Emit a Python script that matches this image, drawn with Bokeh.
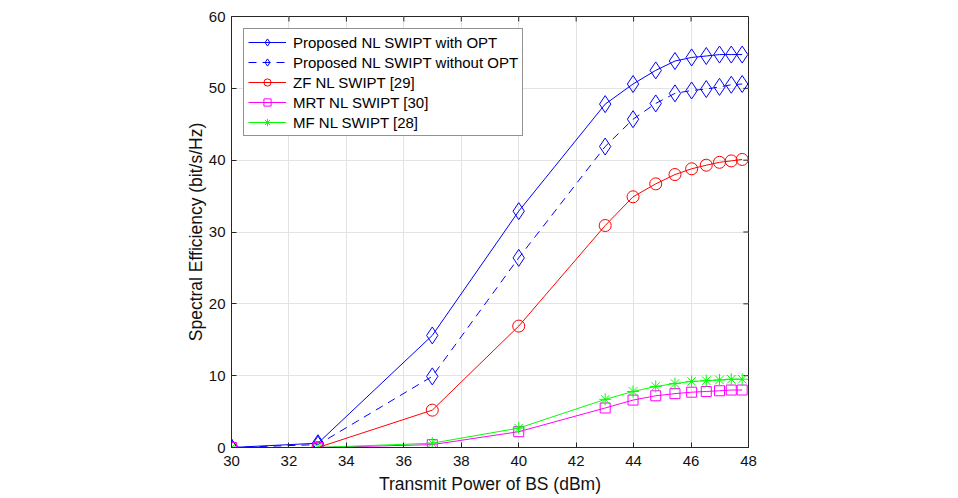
from bokeh.plotting import figure
from bokeh.models import Range1d, FixedTicker, Legend, LegendItem
from bokeh.embed import file_html
from bokeh.resources import INLINE

x_dbm = [30, 33.01, 36.99, 40, 43.01, 43.98, 44.77, 45.44, 46.02, 46.53, 46.99, 47.40, 47.78]
se_opt = [0, 0.6, 15.6, 32.9, 47.8, 50.6, 52.5, 53.8, 54.3, 54.5, 54.7, 54.7, 54.7]
se_noopt = [0, 0.4, 9.9, 26.4, 41.9, 45.7, 47.9, 49.3, 49.7, 49.9, 50.2, 50.5, 50.6]
se_zf = [0, 0, 5.2, 16.9, 30.9, 34.9, 36.7, 38.0, 38.8, 39.3, 39.7, 39.9, 40.1]
se_mrt = [0, 0, 0.4, 2.2, 5.5, 6.6, 7.2, 7.5, 7.7, 7.8, 7.9, 8.0, 8.0]
se_mf = [0, 0, 0.6, 2.7, 6.7, 7.8, 8.5, 8.9, 9.2, 9.3, 9.4, 9.5, 9.5]

names = ["Proposed NL SWIPT with OPT", "Proposed NL SWIPT without OPT",
         "ZF NL SWIPT [29]", "MRT NL SWIPT [30]", "MF NL SWIPT [28]"]
x_ticks = [30, 32, 34, 36, 38, 40, 42, 44, 46, 48]
y_ticks = [0, 10, 20, 30, 40, 50, 60]

FONT = "Liberation Sans"
AX = "#262626"

p = figure(width=958, height=498, output_backend="svg", toolbar_location=None,
           x_range=Range1d(30, 48), y_range=Range1d(0, 60),
           min_border_left=231, min_border_right=210, min_border_top=16, min_border_bottom=51)
p.outline_line_color = AX
p.outline_line_width = 1

for ax in (p.xaxis[0], p.yaxis[0]):
    ax.major_tick_in = 5
    ax.major_tick_out = 0
    ax.minor_tick_in = 0
    ax.minor_tick_out = 0
    ax.axis_line_color = AX
    ax.major_tick_line_color = AX
    ax.major_label_text_font = FONT
    ax.major_label_text_font_size = "15px"
    ax.major_label_text_color = "#111111"
    ax.axis_label_text_font = FONT
    ax.axis_label_text_font_size = "17.5px"
    ax.axis_label_text_font_style = "normal"
    ax.axis_label_text_color = "#111111"

p.xaxis[0].ticker = FixedTicker(ticks=x_ticks)
p.yaxis[0].ticker = FixedTicker(ticks=y_ticks)
p.xaxis[0].axis_label = "Transmit Power of BS (dBm)"
p.yaxis[0].axis_label = "Spectral Efficiency (bit/s/Hz)"
p.xaxis[0].major_label_standoff = 8
p.yaxis[0].major_label_standoff = 6
p.xaxis[0].axis_label_standoff = 5
p.yaxis[0].axis_label_standoff = 0

# tick marks on the top and right edges of the box (drawn from the tick arrays)
tick_len_y = 0.7
tick_len_x = 0.18
p.segment(x0=x_ticks, y0=[60] * len(x_ticks), x1=x_ticks, y1=[60 - tick_len_y] * len(x_ticks),
          line_color=AX, line_width=1)
p.segment(x0=[48] * len(y_ticks), y0=y_ticks, x1=[48 - tick_len_x] * len(y_ticks), y1=y_ticks,
          line_color=AX, line_width=1)

p.xgrid.ticker = FixedTicker(ticks=x_ticks)
p.ygrid.ticker = FixedTicker(ticks=y_ticks)
p.grid.grid_line_color = "#e3e3e3"
p.grid.grid_line_width = 1

blue = "#0000ff"
red = "#ff0000"
mag = "#ff00ff"
green = "#00ff00"

items = []
l1 = p.line(x_dbm, se_opt, line_color=blue, line_width=1)
m1 = p.scatter(x_dbm, se_opt, marker="diamond", size=17, fill_color=None, line_color=blue, line_width=1)
items.append(LegendItem(label=names[0], renderers=[l1, m1]))

l2 = p.line(x_dbm, se_noopt, line_color=blue, line_width=1, line_dash="8 6")
m2 = p.scatter(x_dbm, se_noopt, marker="diamond", size=17, fill_color=None, line_color=blue, line_width=1)
items.append(LegendItem(label=names[1], renderers=[l2, m2]))

l3 = p.line(x_dbm, se_zf, line_color=red, line_width=1)
m3 = p.scatter(x_dbm, se_zf, marker="circle", size=12, fill_color=None, line_color=red, line_width=1)
items.append(LegendItem(label=names[2], renderers=[l3, m3]))

l4 = p.line(x_dbm, se_mrt, line_color=mag, line_width=1)
m4 = p.scatter(x_dbm, se_mrt, marker="square", size=10, fill_color=None, line_color=mag, line_width=1)
items.append(LegendItem(label=names[3], renderers=[l4, m4]))

l5 = p.line(x_dbm, se_mf, line_color=green, line_width=1)
m5 = p.scatter(x_dbm, se_mf, marker="asterisk", size=12, fill_color=None, line_color=green, line_width=1)
items.append(LegendItem(label=names[4], renderers=[l5, m5]))

legend = Legend(items=items, location="top_left")
legend.label_text_font = FONT
legend.label_text_font_size = "15px"
legend.label_text_color = "#000000"
legend.glyph_width = 38
legend.glyph_height = 18
legend.label_height = 18
legend.spacing = 2
legend.padding = 4
legend.margin = 12
legend.label_standoff = 7
legend.border_line_color = AX
legend.border_line_width = 1
legend.background_fill_alpha = 1
p.add_layout(legend)

open("out.html", "w").write(file_html(p, INLINE))
